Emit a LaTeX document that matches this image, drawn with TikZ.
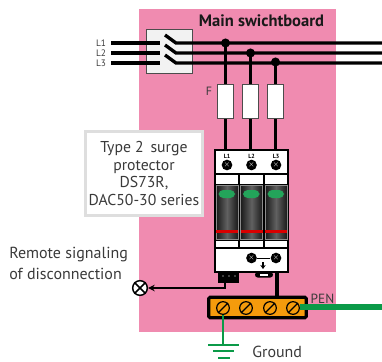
\documentclass[tikz,border=0pt]{standalone}
\usepackage{fontspec}
\usetikzlibrary{arrows.meta}
\setmainfont{PT Sans}
\definecolor{boardpink}{HTML}{F08BB0}
\definecolor{barorange}{HTML}{F59B0C}
\definecolor{earthgreen}{HTML}{0B9A48}
\definecolor{labelgray}{HTML}{3A3A3A}
\tikzset{
	wire/.style={line width=2.5pt,black},
	thinwire/.style={line width=1.1pt,black},
	earth/.style={line width=2.2pt,earthgreen},
	fuse/.style={draw=black!70,fill=white,line width=.6pt,minimum width=12pt,minimum height=25pt,inner sep=0pt},
	dot/.style={circle,fill=black,minimum size=6.8pt,inner sep=0pt},
	terminal/.style={circle,fill=black,minimum size=8pt,inner sep=0pt},
	screw/.style={circle,draw=black,line width=.9pt,minimum size=9.5pt,inner sep=0pt},
	label/.style={text=labelgray,font=\fontsize{12}{14}\selectfont,inner sep=0pt},
}
\begin{document}
\begin{tikzpicture}[x=0.75pt,y=-0.75pt]
	\useasboundingbox (0,0) rectangle (382,361);
	\fill[boardpink] (139,9) rectangle (336,332);
	\node[font=\fontsize{12.4}{14}\selectfont\bfseries,text=black!90,inner sep=0pt] (title) at (261.5,21) {Main swichtboard};
	% switch
	\node[draw=black!70,fill=black!5,line width=.7pt,minimum width=35pt,minimum height=33pt,inner sep=0pt] (switch) at (169.5,51) {};
	\foreach \n/\y in {1/43,2/53,3/63} {
		\coordinate (in\n) at (111,\y);
		\coordinate (pole\n) at (160,\y);
		\coordinate (blade\n) at (165,\y-8);
		\coordinate (hinge\n) at (176,\y);
		\coordinate (out\n) at (382,\y);
		\node[font=\fontsize{7}{9}\selectfont,text=labelgray,inner sep=0pt] (name\n) at (101,\y) {L\n};
		\draw[wire] (in\n) -- (pole\n);
		\draw[wire] (blade\n) -- (hinge\n) -- (out\n);
	}
	% fuses and feeds
	\node[label,font=\fontsize{9}{10}\selectfont] (flabel) at (209,91) {F};
	\foreach \n/\x/\y in {1/225.5/43,2/250.5/53,3/275.5/62} {
		\node[dot] (tap\n) at (\x,\y) {};
		\coordinate (feed\n) at (\x,150);
		\draw[wire] (tap\n.center) -- (feed\n);
		\node[fuse] (fuse\n) at (\x,101.5) {};
	}
	% surge protector
	\draw[fill=white,line width=.9pt] (215,150) rectangle (288,272);
	\foreach \n/\x in {1/227,2/251.5,3/276} {
		\node[font=\bfseries\fontsize{4.5}{5}\selectfont,inner sep=0pt] (polename\n) at (\x,156) {L\n};
		\node[terminal] (clamp\n) at (\x,165) {};
		\node[font=\fontsize{5}{5}\selectfont,text=white!70,inner sep=0pt] at (clamp\n) {$\times$};
		\draw[line width=.8pt] (\x-12,174) rectangle (\x+12,248);
		\draw[line width=.6pt] (\x-12,184) -- (\x+12,184);
		\draw[line width=.6pt] (\x-12,240) -- (\x+12,240);
		\shade[left color=black!90,right color=black!90,middle color=black!62] (\x-11,185) rectangle (\x+11,239);
		\draw[black!45,line width=.5pt] (\x-11,185) rectangle (\x+11,239);
		\fill[earthgreen!90!white,rounded corners=3.5pt] (\x-8.5,190) rectangle (\x+8,198);
		\fill[red!85!black] (\x-11,230) rectangle (\x+11,233);
	}
	\draw[line width=.9pt] (215,174) -- (288,174);
	% bottom of protector
	\node[terminal] (alarm1) at (251.5,258) {};
	\node[terminal] (alarm2) at (276,258) {};
	\node[font=\fontsize{5}{5}\selectfont,text=white!70,inner sep=0pt] at (alarm1) {$\times$};
	\node[font=\fontsize{5}{5}\selectfont,text=white!70,inner sep=0pt] at (alarm2) {$\times$};
	\draw[line width=.7pt] (alarm1) -- (alarm2);
	\coordinate (groundtop) at (263,262);
	\coordinate (groundend) at (263,269);
	\draw[-{Stealth[length=3pt,width=4pt]},line width=.8pt] (groundtop) -- (groundend);
	\node[fill=black,minimum width=16pt,minimum height=8pt,inner sep=0pt] (contact) at (228.5,277.5) {};
	\foreach \x in {223,229,235} \fill[black!50] (\x,276) circle (.8);
	\fill[black,rounded corners=2pt] (255,272) rectangle (273,277.5);
	\fill[white] (260,274) rectangle (268,275.5);
	% earthing bar
	\node[draw=black,fill=barorange,line width=2.4pt,rounded corners=1pt,minimum width=73pt,minimum height=15.5pt,inner sep=0pt] (bar) at (257.5,307.5) {};
	\coordinate (barwire) at (277,272);
	\draw[line width=3.4pt] (barwire) -- (barwire |- bar.north);
	\foreach \n/\x in {1/223,2/246,3/270,4/293} {
		\node[screw] (screw\n) at (\x,308) {};
		\draw[line width=.9pt] (screw\n.225) -- (screw\n.45);
	}
	\coordinate (penend) at (382,307);
	\draw[line width=4.2pt,earthgreen] (screw4.east |- penend) -- (penend);
	\node[label,font=\fontsize{10}{10}\selectfont] (pen) at (322.5,299) {PEN};
	% ground
	\coordinate (earthtop) at (223,345);
	\draw[earth] (screw1) -- (earthtop);
	\draw[earth,line width=1.4pt] (208,345) -- (239,345);
	\draw[earth,line width=1.4pt] (213,351) -- (234,351);
	\draw[earth,line width=1.4pt] (218,358) -- (230,358);
	\node[label,anchor=west] (ground) at (252,351.5) {Ground};
	% signaling
	\node[circle,draw=black,fill=white,line width=1.1pt,minimum size=11pt,inner sep=0pt] (lamp) at (140,288) {};
	\draw[line width=1.1pt] (lamp.45) -- (lamp.225) (lamp.135) -- (lamp.315);
	\draw[thinwire,-{Stealth[length=5pt,width=5pt]}] (225,282) -- (225,288) -- (lamp.east);
	\node[label,anchor=west,text height=9pt] (remote) at (9,254) {Remote signaling};
	\node[label,anchor=west,text height=9pt] (remote2) at (9,274) {of disconnection};
	% callout
	\node[draw=black!13,fill=white,line width=2.2pt,minimum width=88pt,minimum height=63.5pt,inner sep=0pt,align=center,text=labelgray,font=\fontsize{11.8}{13.4}\selectfont] (callout) at (144,173.5) {Type 2\, surge\\protector\\DS73R,\\DAC50-30 series};
\end{tikzpicture}
\end{document}
